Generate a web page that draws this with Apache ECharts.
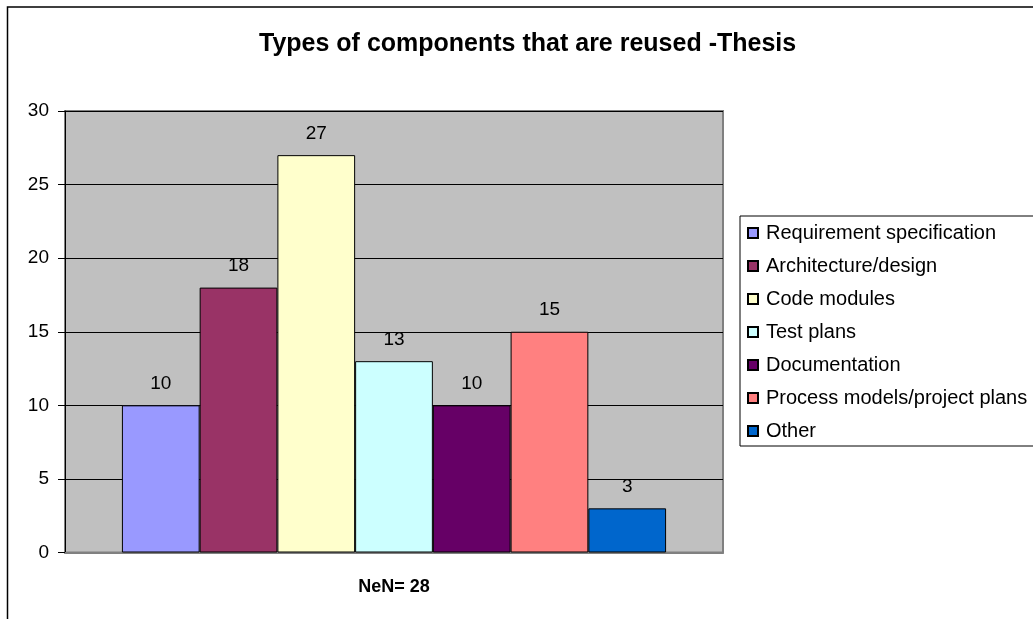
<!DOCTYPE html>
<html>
<head>
<meta charset="utf-8">
<script src="https://cdn.jsdelivr.net/npm/echarts@6/dist/echarts.min.js"></script>
<style>
  html, body { margin: 0; padding: 0; background: #fff; }
  #chart { width: 1033px; height: 619px; }
</style>
</head>
<body>
<div id="chart"></div>
<script>
// Component types and how many respondents reuse each
const seriesNames = [
  'Requirement specification',
  'Architecture/design',
  'Code modules',
  'Test plans',
  'Documentation',
  'Process models/project plans',
  'Other'
];
const seriesValues = [10, 18, 27, 13, 10, 15, 3];
const seriesColors = ['#9999FF', '#993366', '#FFFFCC', '#CCFFFF', '#660066', '#FF8080', '#0066CC'];
const categories = [''];
const yTicks = { min: 0, max: 30, interval: 5 };
const titleText = 'Types of components that are reused -Thesis';
const xAxisTitle = 'NeN= 28';

const FONT = '"Liberation Sans", Arial, sans-serif';

const chart = echarts.init(document.getElementById('chart'), null, { renderer: 'canvas' });

const series = seriesNames.map((name, i) => ({
  name: name,
  type: 'bar',
  data: [seriesValues[i]],
  barGap: '0%',
  barCategoryGap: '17.3%',
  itemStyle: { color: seriesColors[i], borderColor: '#000', borderWidth: 1 },
  label: {
    show: true,
    position: 'top',
    distance: 12,
    color: '#000',
    fontFamily: FONT,
    fontSize: 19
  },
  emphasis: { disabled: true }
}));

chart.setOption({
  animation: false,
  backgroundColor: '#fff',
  title: {
    text: titleText,
    left: 259,
    top: 32,
    padding: 0,
    textStyle: { fontFamily: FONT, fontSize: 25, fontWeight: 'bold', color: '#000' }
  },
  graphic: [{
    type: 'rect',
    shape: { x: 7.5, y: 7, width: 1100, height: 700 },
    style: { fill: 'none', stroke: '#000', lineWidth: 1.5 },
    silent: true,
    z: 100
  }],
  grid: {
    left: 65,
    right: 310,
    top: 111,
    bottom: 66.5,
    show: true,
    backgroundColor: '#C0C0C0',
    borderColor: '#808080',
    borderWidth: 2
  },
  legend: {
    orient: 'vertical',
    left: 740,
    top: 216,
    icon: 'rect',
    itemWidth: 10,
    itemHeight: 10,
    itemGap: 13,
    padding: [7, 60, 5, 7],
    borderColor: '#000',
    borderWidth: 1,
    backgroundColor: '#fff',
    selectedMode: false,
    textStyle: { fontFamily: FONT, fontSize: 20, lineHeight: 20, color: '#000', padding: [0, 0, 0, 3] },
    data: seriesNames
  },
  xAxis: {
    type: 'category',
    data: categories,
    name: xAxisTitle,
    nameLocation: 'middle',
    nameGap: 26,
    nameTextStyle: { fontFamily: FONT, fontSize: 18, fontWeight: 'bold', color: '#000' },
    axisLine: { lineStyle: { color: '#808080', width: 2 } },
    axisTick: { show: false },
    axisLabel: { show: false }
  },
  yAxis: {
    type: 'value',
    min: yTicks.min,
    max: yTicks.max,
    interval: yTicks.interval,
    axisLine: { show: true, lineStyle: { color: '#000', width: 1 } },
    axisTick: { show: true, length: 7, lineStyle: { color: '#000' } },
    axisLabel: { margin: 16, fontFamily: FONT, fontSize: 19, color: '#000' },
    splitLine: { show: true, lineStyle: { color: '#000', width: 1 } }
  },
  series: series
});
</script>
</body>
</html>
